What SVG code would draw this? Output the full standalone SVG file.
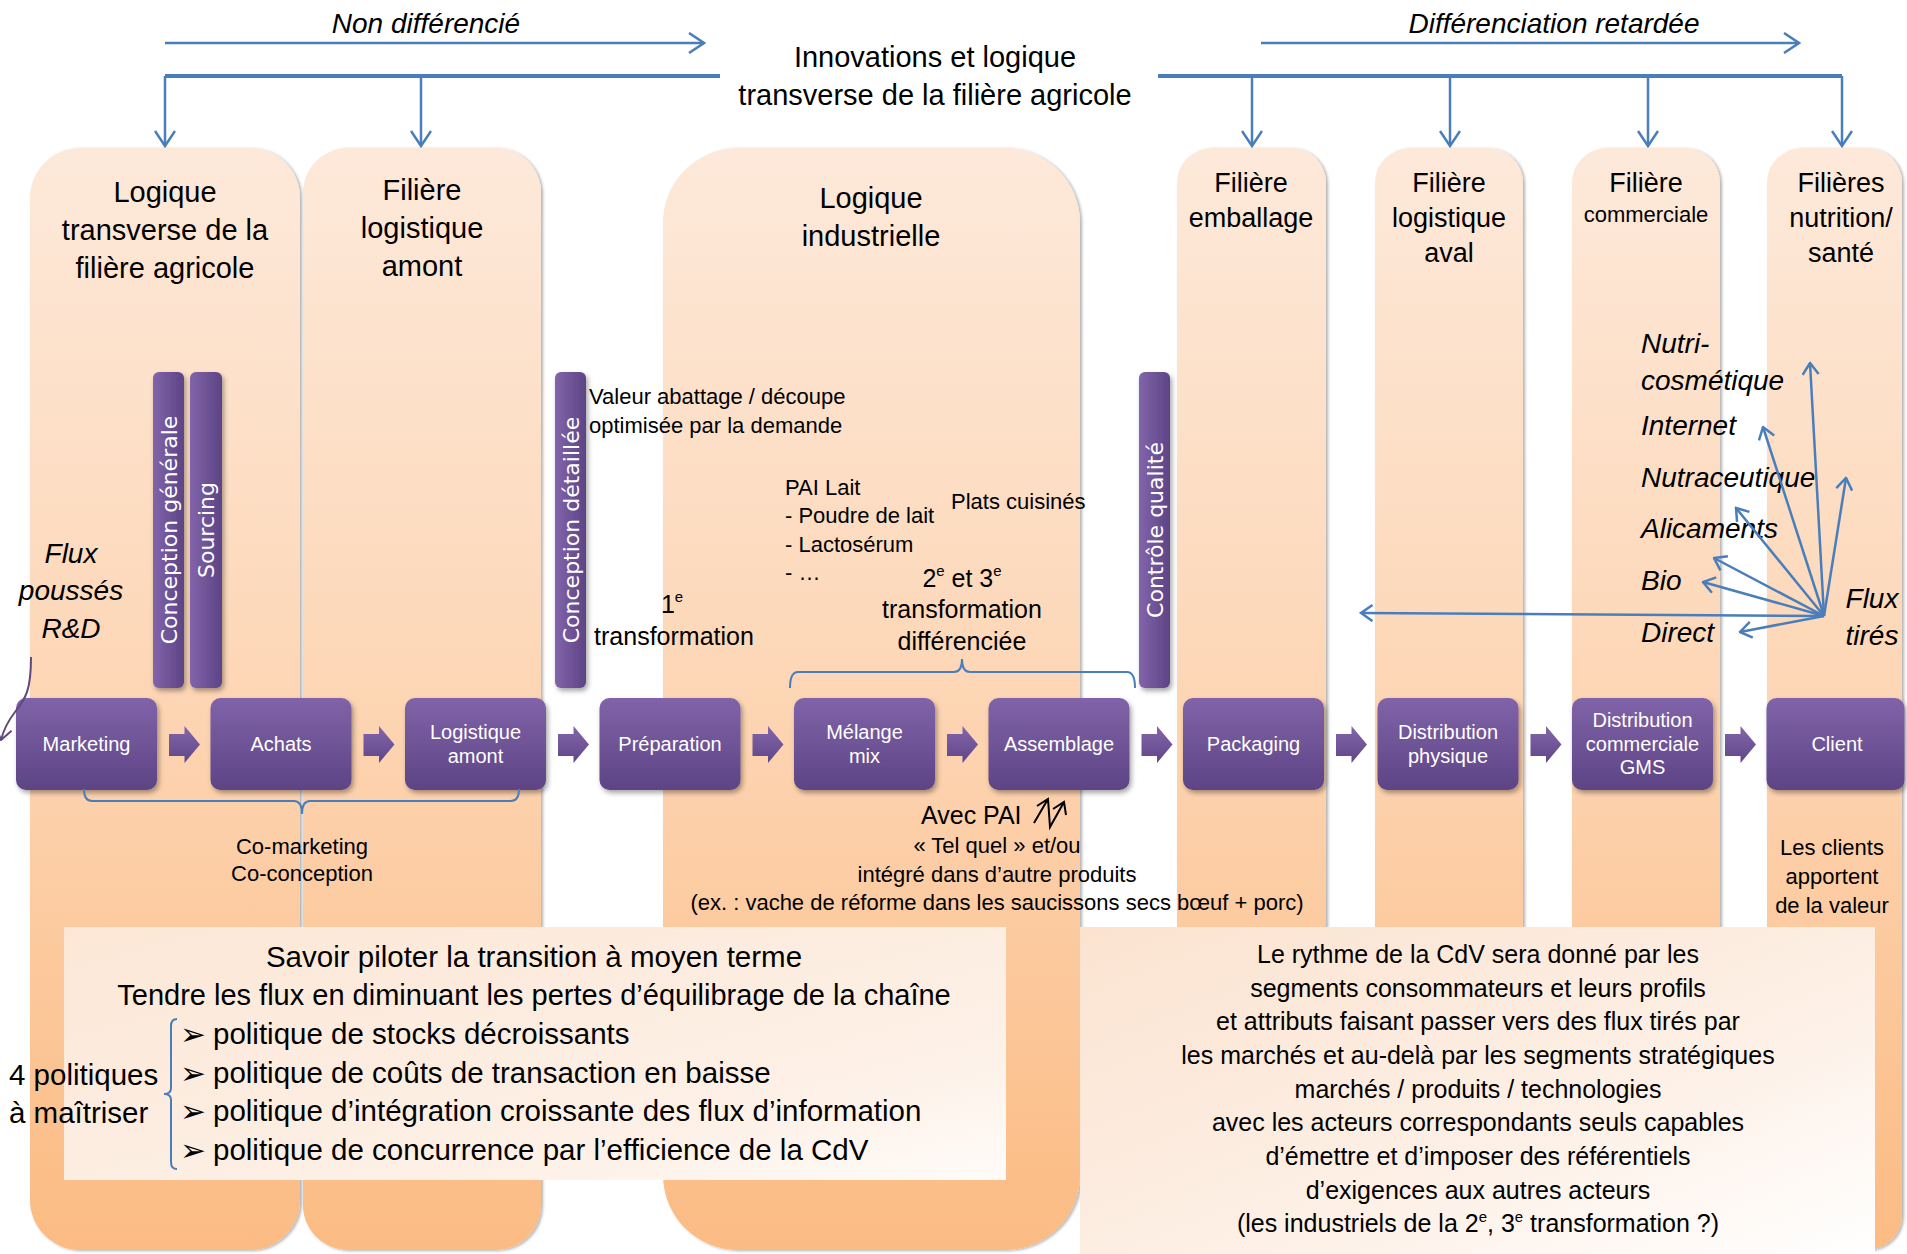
<svg xmlns="http://www.w3.org/2000/svg" width="1907" height="1254" viewBox="0 0 1907 1254">
  <defs>
    <style>
      .t { font-family: 'Liberation Sans', Arial, sans-serif; fill: #000; }
      .hd { font-size: 29px; text-anchor: middle; }
      .hd2 { font-size: 27px; text-anchor: middle; }
      .lbl { font-size: 20px; fill: #fff; text-anchor: middle; }
      .sm { font-size: 22px; }
      .md { font-size: 25px; }
      .mid { text-anchor: middle; }
      .it { font-style: italic; }
      .vt { font-family: 'DejaVu Sans', Verdana, sans-serif; font-size: 22px; fill: #fff; text-anchor: middle; }
      .col { fill: url(#colFill); filter: url(#colShadow); }
      .box { fill: url(#boxFill); filter: url(#boxShadow); }
      .bar { fill: url(#barFill); filter: url(#boxShadow); }
      .blk { fill: url(#blkFill); }
      .conn { fill: none; stroke: #4A7EBB; stroke-width: 2.5; }
      .thick { fill: none; stroke: #4A7EBB; stroke-width: 4; }
      .brace { fill: none; stroke: #4A7EBB; stroke-width: 2; }
      .bullet { font-family: 'DejaVu Sans', sans-serif; font-size: 31px; fill: #000; }
    </style>
    <linearGradient id="colFill" gradientUnits="userSpaceOnUse" x1="0" y1="148" x2="0" y2="1250">
      <stop offset="0" stop-color="#FDE9DA"/>
      <stop offset="0.45" stop-color="#FDD8B9"/>
      <stop offset="1" stop-color="#FBBB83"/>
    </linearGradient>
    <linearGradient id="boxFill" x1="0" y1="0" x2="0" y2="1">
      <stop offset="0" stop-color="#8063A8"/>
      <stop offset="1" stop-color="#5D4485"/>
    </linearGradient>
    <linearGradient id="blkFill" x1="0" y1="0" x2="0" y2="1">
      <stop offset="0" stop-color="#8466AB"/>
      <stop offset="1" stop-color="#5F4687"/>
    </linearGradient>
    <linearGradient id="barFill" x1="0" y1="0" x2="1" y2="0">
      <stop offset="0" stop-color="#8264AA"/>
      <stop offset="1" stop-color="#5C4485"/>
    </linearGradient>
    <linearGradient id="noteFillL" x1="0" y1="0" x2="1" y2="1">
      <stop offset="0" stop-color="#FCE7D6"/>
      <stop offset="0.7" stop-color="#FDF0E6"/>
      <stop offset="1" stop-color="#FFFBF8"/>
    </linearGradient>
    <linearGradient id="noteFillR" x1="0" y1="0" x2="1" y2="1">
      <stop offset="0" stop-color="#FBE3D0"/>
      <stop offset="0.6" stop-color="#FDF0E6"/>
      <stop offset="1" stop-color="#FFFFFF"/>
    </linearGradient>
    <filter id="colShadow" x="-5%" y="-2%" width="110%" height="104%">
      <feDropShadow dx="2" dy="1" stdDeviation="1.5" flood-color="#000" flood-opacity="0.3"/>
    </filter>
    <filter id="boxShadow" x="-10%" y="-10%" width="130%" height="130%">
      <feDropShadow dx="2" dy="3" stdDeviation="2.5" flood-color="#000" flood-opacity="0.35"/>
    </filter>
    <marker id="headBig" viewBox="0 0 18 22" refX="16" refY="11" markerWidth="18" markerHeight="22" markerUnits="userSpaceOnUse" orient="auto">
      <path d="M1,1 L16,11 L1,21" fill="none" stroke="#4A7EBB" stroke-width="2.5"/>
    </marker>
    <marker id="headSmall" viewBox="0 0 14 18" refX="12.5" refY="9" markerWidth="14" markerHeight="18" markerUnits="userSpaceOnUse" orient="auto">
      <path d="M1,1 L12.5,9 L1,17" fill="none" stroke="#4A7EBB" stroke-width="2.5"/>
    </marker>
    <marker id="headPurple" viewBox="0 0 14 18" refX="12.5" refY="9" markerWidth="14" markerHeight="18" markerUnits="userSpaceOnUse" orient="auto">
      <path d="M1,1 L12.5,9 L1,17" fill="none" stroke="#5F497A" stroke-width="2"/>
    </marker>
  </defs>

  <rect width="1907" height="1254" fill="#fff"/>

  <!-- Column backgrounds -->
  <g id="columns">
    <g id="col-agricole">
      <rect class="col" x="30" y="148" width="270" height="1102" rx="50"/>
      <text class="t hd" x="165" y="202">Logique</text>
      <text class="t hd" x="165" y="240">transverse de la</text>
      <text class="t hd" x="165" y="278">filière agricole</text>
    </g>
    <g id="col-logistique-amont">
      <rect class="col" x="303" y="148" width="238" height="1102" rx="45"/>
      <text class="t hd" x="422" y="200">Filière</text>
      <text class="t hd" x="422" y="238">logistique</text>
      <text class="t hd" x="422" y="276">amont</text>
    </g>
    <g id="col-industrielle">
      <rect class="col" x="663" y="148" width="417" height="1102" rx="75"/>
      <text class="t hd" x="871" y="208">Logique</text>
      <text class="t hd" x="871" y="246">industrielle</text>
    </g>
    <g id="col-emballage">
      <rect class="col" x="1177" y="148" width="149" height="1102" rx="35"/>
      <text class="t hd2" x="1251" y="192">Filière</text>
      <text class="t hd2" x="1251" y="227">emballage</text>
    </g>
    <g id="col-logistique-aval">
      <rect class="col" x="1375" y="148" width="148" height="1102" rx="35"/>
      <text class="t hd2" x="1449" y="192">Filière</text>
      <text class="t hd2" x="1449" y="227">logistique</text>
      <text class="t hd2" x="1449" y="262">aval</text>
    </g>
    <g id="col-commerciale">
      <rect class="col" x="1572" y="148" width="148" height="1102" rx="35"/>
      <text class="t hd2" x="1646" y="192">Filière</text>
      <text class="t mid" x="1646" y="222" font-size="22">commerciale</text>
    </g>
    <g id="col-nutrition">
      <rect class="col" x="1767" y="148" width="135" height="1102" rx="35"/>
      <text class="t hd2" x="1841" y="192">Filières</text>
      <text class="t hd2" x="1841" y="227">nutrition/</text>
      <text class="t hd2" x="1841" y="262">santé</text>
    </g>
  </g>

  <!-- Top headings -->
  <g id="top-labels">
    <text class="t it mid" x="426" y="33" font-size="28">Non différencié</text>
    <text class="t it mid" x="1554" y="33" font-size="28">Différenciation retardée</text>
    <text class="t mid" x="935" y="67" font-size="29">Innovations et logique</text>
    <text class="t mid" x="935" y="105" font-size="29">transverse de la filière agricole</text>
  </g>

  <!-- Vertical bars -->
  <g id="bar-conception-generale">
    <rect class="bar" x="153" y="372" width="31" height="316" rx="6"/>
    <text class="vt" transform="translate(177,530) rotate(-90)">Conception générale</text>
  </g>
  <g id="bar-sourcing">
    <rect class="bar" x="190" y="372" width="32" height="316" rx="6"/>
    <text class="vt" transform="translate(214,530) rotate(-90)">Sourcing</text>
  </g>
  <g id="bar-conception-detaillee">
    <rect class="bar" x="555" y="372" width="31" height="316" rx="6"/>
    <text class="vt" transform="translate(579,530) rotate(-90)">Conception détaillée</text>
  </g>
  <g id="bar-controle-qualite">
    <rect class="bar" x="1139" y="372" width="31" height="316" rx="6"/>
    <text class="vt" transform="translate(1163,530) rotate(-90)">Contrôle qualité</text>
  </g>

  <!-- Annotations in the middle zone -->
  <g id="notes">
    <text class="t it mid" x="71" y="563" font-size="28">Flux</text>
    <text class="t it mid" x="71" y="600" font-size="28">poussés</text>
    <text class="t it mid" x="71" y="638" font-size="28">R&amp;D</text>

    <text class="t sm" x="589" y="404">Valeur abattage / découpe</text>
    <text class="t sm" x="589" y="433">optimisée par la demande</text>

    <text class="t sm" x="785" y="495">PAI Lait</text>
    <text class="t sm" x="785" y="523">- Poudre de lait</text>
    <text class="t sm" x="785" y="552">- Lactosérum</text>
    <text class="t sm" x="785" y="580">- …</text>
    <text class="t sm" x="951" y="509">Plats cuisinés</text>

    <text class="t md mid" x="672" y="613">1<tspan dy="-11" font-size="15">e</tspan></text>
    <text class="t md mid" x="674" y="645">transformation</text>

    <text class="t md mid" x="962" y="587">2<tspan dy="-11" font-size="15">e</tspan><tspan dy="11"> et 3</tspan><tspan dy="-11" font-size="15">e</tspan></text>
    <text class="t md mid" x="962" y="618">transformation</text>
    <text class="t md mid" x="962" y="650">différenciée</text>

    <text class="t sm mid" x="302" y="854">Co-marketing</text>
    <text class="t sm mid" x="302" y="881">Co-conception</text>

    <text class="t md" x="921" y="824">Avec PAI</text>
    <path d="M1034,823 L1048,799 M1037,806 L1048,799 L1050,827 L1064,802 M1053,809 L1064,802 L1066,815" fill="none" stroke="#000" stroke-width="2"/>
    <text class="t sm mid" x="997" y="853">« Tel quel » et/ou</text>
    <text class="t sm mid" x="997" y="882">intégré dans d’autre produits</text>
    <text class="t sm mid" x="997" y="910">(ex. :  vache de réforme dans les saucissons secs bœuf + porc)</text>

    <text class="t sm mid" x="1832" y="855">Les clients</text>
    <text class="t sm mid" x="1832" y="884">apportent</text>
    <text class="t sm mid" x="1832" y="913">de la valeur</text>

    <text class="t it" x="1641" y="353" font-size="28">Nutri-</text>
    <text class="t it" x="1641" y="390" font-size="28">cosmétique</text>
    <text class="t it" x="1641" y="435" font-size="28">Internet</text>
    <text class="t it" x="1641" y="487" font-size="28">Nutraceutique</text>
    <text class="t it" x="1641" y="538" font-size="28">Alicaments</text>
    <text class="t it" x="1641" y="590" font-size="28">Bio</text>
    <text class="t it" x="1641" y="642" font-size="28">Direct</text>
    <text class="t it mid" x="1872" y="608" font-size="28">Flux</text>
    <text class="t it mid" x="1872" y="645" font-size="28">tirés</text>
  </g>

  <!-- Process chain -->
  <g id="node-marketing">
    <rect class="box" x="16" y="698" width="141" height="92" rx="10"/>
    <text class="t lbl" x="86.5" y="751">Marketing</text>
  </g>
  <g id="node-achats">
    <rect class="box" x="210.5" y="698" width="141" height="92" rx="10"/>
    <text class="t lbl" x="281" y="751">Achats</text>
  </g>
  <g id="node-logistique-amont">
    <rect class="box" x="405" y="698" width="141" height="92" rx="10"/>
    <text class="t lbl" x="475.5" y="739">Logistique</text>
    <text class="t lbl" x="475.5" y="763">amont</text>
  </g>
  <g id="node-preparation">
    <rect class="box" x="599.5" y="698" width="141" height="92" rx="10"/>
    <text class="t lbl" x="670" y="751">Préparation</text>
  </g>
  <g id="node-melange">
    <rect class="box" x="794" y="698" width="141" height="92" rx="10"/>
    <text class="t lbl" x="864.5" y="739">Mélange</text>
    <text class="t lbl" x="864.5" y="763">mix</text>
  </g>
  <g id="node-assemblage">
    <rect class="box" x="988.5" y="698" width="141" height="92" rx="10"/>
    <text class="t lbl" x="1059" y="751">Assemblage</text>
  </g>
  <g id="node-packaging">
    <rect class="box" x="1183" y="698" width="141" height="92" rx="10"/>
    <text class="t lbl" x="1253.5" y="751">Packaging</text>
  </g>
  <g id="node-distribution-physique">
    <rect class="box" x="1377.5" y="698" width="141" height="92" rx="10"/>
    <text class="t lbl" x="1448" y="739">Distribution</text>
    <text class="t lbl" x="1448" y="763">physique</text>
  </g>
  <g id="node-distribution-commerciale">
    <rect class="box" x="1572" y="698" width="141" height="92" rx="10"/>
    <text class="t lbl" x="1642.5" y="727">Distribution</text>
    <text class="t lbl" x="1642.5" y="751">commerciale</text>
    <text class="t lbl" x="1642.5" y="774">GMS</text>
  </g>
  <g id="node-client">
    <rect class="box" x="1766.5" y="698" width="138" height="92" rx="10"/>
    <text class="t lbl" x="1837" y="751">Client</text>
  </g>

  <!-- Connectors -->
  <g id="connectors">
    <!-- block arrows of the chain -->
    <g id="chain-arrows">
      <polygon class="blk" points="169,734 184.5,734 184.5,726 200,744.5 184.5,763 184.5,756 169,756"/>
      <polygon class="blk" points="363.5,734 379,734 379,726 394.5,744.5 379,763 379,756 363.5,756"/>
      <polygon class="blk" points="558,734 573.5,734 573.5,726 589,744.5 573.5,763 573.5,756 558,756"/>
      <polygon class="blk" points="752.5,734 768,734 768,726 783.5,744.5 768,763 768,756 752.5,756"/>
      <polygon class="blk" points="947,734 962.5,734 962.5,726 978,744.5 962.5,763 962.5,756 947,756"/>
      <polygon class="blk" points="1141.5,734 1157,734 1157,726 1172.5,744.5 1157,763 1157,756 1141.5,756"/>
      <polygon class="blk" points="1336,734 1351.5,734 1351.5,726 1367,744.5 1351.5,763 1351.5,756 1336,756"/>
      <polygon class="blk" points="1530.5,734 1546,734 1546,726 1561.5,744.5 1546,763 1546,756 1530.5,756"/>
      <polygon class="blk" points="1725,734 1740.5,734 1740.5,726 1756,744.5 1740.5,763 1740.5,756 1725,756"/>
    </g>

    <!-- top flows -->
    <path class="conn" d="M165,43 H704" marker-end="url(#headBig)"/>
    <path class="conn" d="M1261,43 H1799" marker-end="url(#headBig)"/>
    <path class="thick" d="M165,76 H720"/>
    <path class="thick" d="M1158,76 H1842"/>
    <path class="conn" d="M165,76 V146" marker-end="url(#headBig)"/>
    <path class="conn" d="M421,76 V146" marker-end="url(#headBig)"/>
    <path class="conn" d="M1252,76 V146" marker-end="url(#headBig)"/>
    <path class="conn" d="M1450,76 V146" marker-end="url(#headBig)"/>
    <path class="conn" d="M1648,76 V146" marker-end="url(#headBig)"/>
    <path class="conn" d="M1842,76 V146" marker-end="url(#headBig)"/>

    <!-- pushed flow -->
    <path d="M31,657 C31,690 26,698 15,712 C8,721 4,728 1,740" fill="none" stroke="#5F497A" stroke-width="2" marker-end="url(#headPurple)"/>

    <!-- pulled flows -->
    <path class="conn" d="M1824,616 L1361,613" marker-end="url(#headSmall)"/>
    <path class="conn" d="M1824,616 L1740,632" marker-end="url(#headSmall)"/>
    <path class="conn" d="M1824,616 L1703,582" marker-end="url(#headSmall)"/>
    <path class="conn" d="M1824,616 L1714,558" marker-end="url(#headSmall)"/>
    <path class="conn" d="M1824,616 L1736,508" marker-end="url(#headSmall)"/>
    <path class="conn" d="M1824,616 L1763,427" marker-end="url(#headSmall)"/>
    <path class="conn" d="M1824,616 L1810,363" marker-end="url(#headSmall)"/>
    <path class="conn" d="M1824,616 L1846,478" marker-end="url(#headSmall)"/>

    <!-- braces -->
    <path class="brace" d="M84,789 Q84,801 92,801 H294 Q302,801 302,814 Q302,801 310,801 H511 Q519,801 519,789"/>
    <path class="brace" d="M790,688 Q790,672 798,672 H954 Q962,672 962,659 Q962,672 970,672 H1127 Q1135,672 1135,688"/>
  </g>

  <!-- Summary panels -->
  <g id="panel-transition">
    <rect x="64" y="927" width="942" height="253" fill="url(#noteFillL)"/>
    <text class="t mid" x="534" y="967" font-size="29.5">Savoir piloter la transition à moyen terme</text>
    <text class="t mid" x="534" y="1005" font-size="29">Tendre les flux en diminuant les pertes d’équilibrage de la chaîne</text>
    <path class="brace" d="M177,1019 Q171,1019 171,1026 V1088 Q171,1094 164,1094 Q171,1094 171,1100 V1162 Q171,1169 177,1169" stroke-width="1.5"/>
    <text class="bullet" x="180" y="1045">➢</text>
    <text class="bullet" x="180" y="1084">➢</text>
    <text class="bullet" x="180" y="1122">➢</text>
    <text class="bullet" x="180" y="1161">➢</text>
    <text class="t" x="213" y="1044" font-size="29.5">politique de stocks décroissants</text>
    <text class="t" x="213" y="1083" font-size="29.5">politique de coûts de transaction en baisse</text>
    <text class="t" x="213" y="1121" font-size="29.5">politique d’intégration croissante des flux d’information</text>
    <text class="t" x="213" y="1160" font-size="29.5">politique de concurrence par l’efficience de la CdV</text>
    <text class="t" x="9" y="1085" font-size="29.5">4 politiques</text>
    <text class="t" x="9" y="1123" font-size="29.5">à maîtriser</text>
  </g>

  <g id="panel-rythme">
    <rect x="1080" y="927" width="795" height="327" fill="url(#noteFillR)"/>
    <g class="t mid" font-size="25" text-anchor="middle">
      <text x="1478" y="963">Le rythme de la CdV sera donné par les</text>
      <text x="1478" y="997">segments consommateurs et leurs profils</text>
      <text x="1478" y="1030">et attributs faisant passer vers des  flux tirés par</text>
      <text x="1478" y="1064">les marchés et au-delà par les segments stratégiques</text>
      <text x="1478" y="1098">marchés / produits / technologies</text>
      <text x="1478" y="1131">avec les acteurs correspondants seuls capables</text>
      <text x="1478" y="1165">d’émettre et d’imposer des référentiels</text>
      <text x="1478" y="1199">d’exigences aux autres acteurs</text>
      <text x="1478" y="1232">(les industriels de la 2<tspan dy="-10" font-size="15">e</tspan><tspan dy="10">, 3</tspan><tspan dy="-10" font-size="15">e</tspan><tspan dy="10"> transformation ?)</tspan></text>
    </g>
  </g>
</svg>
